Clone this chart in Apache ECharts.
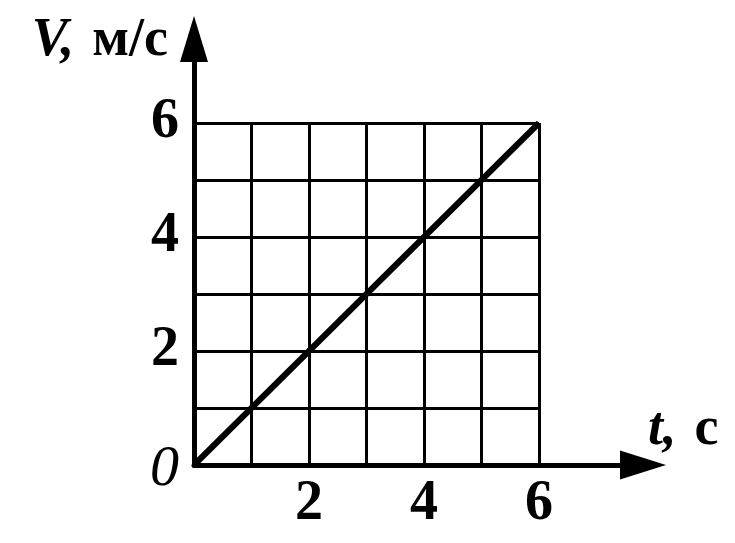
<!DOCTYPE html>
<html>
<head>
<meta charset="utf-8">
<script src="https://cdn.jsdelivr.net/npm/echarts@6/dist/echarts.min.js"></script>
<style>
html,body{margin:0;padding:0;background:#fff;}
#chart{width:735px;height:543px;}
</style>
</head>
<body>
<div id="chart"></div>
<script>
const times = [0, 1, 2, 3, 4, 5, 6];
const speeds = [0, 1, 2, 3, 4, 5, 6];
const xTickLabels = ['', '', '2', '', '4', '', '6'];
const yTickLabels = ['0', '', '2', '', '4', '', '6'];
const xName = ['t,', 'с'];
const yName = ['V,', 'м/с'];

const FONT = '"Liberation Serif", "DejaVu Serif", serif';
const chart = echarts.init(document.getElementById('chart'), null, {renderer: 'canvas'});

const labelStyle = {color: '#000', fontFamily: FONT, fontWeight: 'bold', fontSize: 56};

chart.setOption({
  backgroundColor: '#fff',
  animation: false,
  grid: [
    {left: 194, right: 196, top: 123, bottom: 78},
    {left: 194, right: 92, top: 39, bottom: 78}
  ],
  xAxis: [
    {
      type: 'value', gridIndex: 0, min: 0, max: 6, interval: 1,
      axisLine: {show: false}, axisTick: {show: false},
      splitLine: {show: true, lineStyle: {color: '#000', width: 3}},
      axisLabel: Object.assign({}, labelStyle, {
        margin: 12,
        formatter: v => xTickLabels[v] || ''
      })
    },
    {
      type: 'value', gridIndex: 1, min: 0, max: 1,
      axisLine: {show: true, symbol: ['none', 'triangle'], symbolSize: [29, 46],
        lineStyle: {color: '#000', width: 5}},
      axisTick: {show: false}, axisLabel: {show: false}, splitLine: {show: false},
      name: '{i|' + xName[0] + '}{b|\u2004' + xName[1] + '}',
      nameLocation: 'end', nameGap: 5,
      nameTextStyle: {
        align: 'left', verticalAlign: 'bottom', padding: [0, 0, 8, 0],
        rich: {
          i: {fontFamily: FONT, fontStyle: 'italic', fontWeight: 'bold', fontSize: 54, color: '#000'},
          b: {fontFamily: FONT, fontWeight: 'bold', fontSize: 54, color: '#000'}
        }
      }
    }
  ],
  yAxis: [
    {
      type: 'value', gridIndex: 0, min: 0, max: 6, interval: 1,
      axisLine: {show: false}, axisTick: {show: false},
      splitLine: {show: true, lineStyle: {color: '#000', width: 3}},
      axisLabel: Object.assign({}, labelStyle, {
        margin: 15,
        formatter: v => v === 0 ? '{i|' + yTickLabels[0] + '}' : (yTickLabels[v] || ''),
        rich: {
          i: {fontFamily: FONT, fontStyle: 'italic', fontWeight: 'normal', fontSize: 58, color: '#000', padding: [10, 0, 0, 0]}
        }
      })
    },
    {
      type: 'value', gridIndex: 1, min: 0, max: 1,
      axisLine: {show: true, symbol: ['none', 'triangle'], symbolSize: [28, 46],
        lineStyle: {color: '#000', width: 5}},
      axisTick: {show: false}, axisLabel: {show: false}, splitLine: {show: false},
      name: '{i|' + yName[0] + '}{b|\u2004' + yName[1] + '}',
      nameLocation: 'end', nameGap: -29,
      nameTextStyle: {
        align: 'right', verticalAlign: 'bottom', padding: [0, 26, 0, 0],
        rich: {
          i: {fontFamily: FONT, fontStyle: 'italic', fontWeight: 'bold', fontSize: 54, color: '#000'},
          b: {fontFamily: FONT, fontWeight: 'bold', fontSize: 54, color: '#000'}
        }
      }
    }
  ],
  series: [{
    type: 'line', xAxisIndex: 0, yAxisIndex: 0,
    data: times.map((t, i) => [t, speeds[i]]),
    showSymbol: false, symbol: 'none',
    lineStyle: {color: '#000', width: 6},
    z: 5
  }]
});
</script>
</body>
</html>
